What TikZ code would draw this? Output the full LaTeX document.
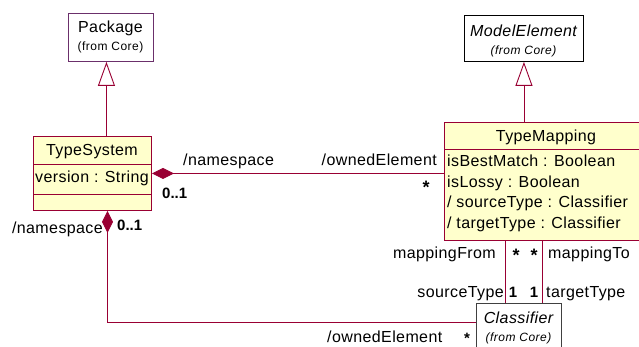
\documentclass[tikz,border=0pt]{standalone}
\usepackage{fontspec}
\setmainfont{Liberation Sans}
\usetikzlibrary{arrows.meta}
\definecolor{umlred}{HTML}{990033}
\definecolor{umlpurple}{HTML}{6B2F6B}
\definecolor{umlfill}{HTML}{FFFFCC}
\definecolor{umlgray}{HTML}{404040}
\begin{document}
\begin{tikzpicture}[x=1pt,y=-1pt,
  box/.style={draw, line width=0.9pt, anchor=north west, inner sep=0pt},
  classbox/.style={box, draw=umlred, fill=umlfill},
  txt/.style={inner sep=0pt, font=\fontsize{16}{19}\selectfont\addfontfeatures{LetterSpace=2.5}, text height=11.5pt, text depth=0pt},
  itxt/.style={txt, font=\fontsize{16}{19}\selectfont\itshape\addfontfeatures{LetterSpace=2.5}},
  note/.style={inner sep=0pt, font=\fontsize{12}{14}\selectfont\addfontfeatures{LetterSpace=4}, text height=8.6pt, text depth=0pt},
  inote/.style={note, font=\fontsize{12}{14}\selectfont\itshape\addfontfeatures{LetterSpace=4}},
  mult/.style={inner sep=0pt, font=\fontsize{15}{18}\selectfont\bfseries, text height=10.8pt, text depth=0pt},
  star/.style={inner sep=0pt, font=\fontsize{18}{20}\selectfont\bfseries, text height=13pt, text depth=0pt},
  smallstar/.style={inner sep=0pt, font=\fontsize{15}{18}\selectfont\bfseries, text height=10pt, text depth=0pt},
  link/.style={draw=umlred, line width=0.9pt},
  inherit/.style={link, -{Triangle[open, length=24pt, width=17pt, fill=white]}},
  owner/.style={link, {Diamond[length=22pt, width=11pt, fill=umlred]}-},
]
\useasboundingbox (0,0) rectangle (639,347);

% class boxes
\node[box, draw=umlpurple, minimum width=85pt, minimum height=48pt] (pkg) at (68,13) {};
\node[box, draw=black, minimum width=119pt, minimum height=46pt] (me) at (464,15) {};
\node[classbox, minimum width=118pt, minimum height=74pt] (ts) at (33,136) {};
\node[classbox, minimum width=204pt, minimum height=118pt] (tm) at (444,122) {};
\node[box, draw=umlgray, fill=white, minimum width=85pt, minimum height=50pt] (cl) at (476,303) {};

% compartment separators
\draw[umlred, line width=0.9pt] (33,164) -- (151,164) (33,194) -- (151,194);
\draw[umlred, line width=0.9pt] (444,149) -- (648,149);

% class names and attributes
\node[txt] (pkgname) at (110.5,27) {Package};
\node[note] (pkgfrom) at (110.5,46) {(from Core)};
\node[itxt] (mename) at (523.5,31) {ModelElement};
\node[inote] (mefrom) at (523.5,50) {(from Core)};
\node[txt] (tsname) at (92,150) {TypeSystem};
\node[txt, anchor=west] (tsattr) at (35,177) {version : String};
\node[txt] (tmname) at (546,136) {TypeMapping};
\node[txt, anchor=west] (tma) at (447,161) {isBestMatch : Boolean};
\node[txt, anchor=west] (tmb) at (447,182) {isLossy : Boolean};
\node[txt, anchor=west] (tmc) at (447,202) {/ sourceType : Classifier};
\node[txt, anchor=west] (tmd) at (447,223) {/ targetType : Classifier};
\node[itxt] (clname) at (518.5,318) {Classifier};
\node[inote] (clfrom) at (518.5,337) {(from Core)};

% generalizations
\draw[inherit] ([xshift=-4.5pt]pkg.south |- ts.north) -- ([xshift=-4.5pt]pkg.south);
\draw[inherit] (me.south |- tm.north) -- (me.south);

% compositions and associations
\draw[owner] (ts.east) -- (ts.east -| tm.west);
\draw[owner] ([xshift=15pt]ts.south) |- ([yshift=-19pt]cl.north west);
\draw[link] ([xshift=-41pt]tm.south) -- ([xshift=-41pt]tm.south |- cl.north);
\draw[link] ([xshift=-4pt]tm.south) -- ([xshift=-4pt]tm.south |- cl.north);

% role names and multiplicities
\node[txt, anchor=west] (r1) at (183,160) {/namespace};
\node[txt, anchor=east] (r2) at (437,160) {/ownedElement};
\node[star] (m1) at (426,187) {*};
\node[mult, anchor=west] (m2) at (162,193) {0..1};
\node[mult, anchor=west] (m3) at (117,225) {0..1};
\node[txt, anchor=east] (r3) at (103,228) {/namespace};
\node[txt, anchor=east] (r4) at (496,253) {mappingFrom};
\node[star] (m4) at (516,255) {*};
\node[star] (m5) at (534,255) {*};
\node[txt, anchor=west] (r5) at (548,253) {mappingTo};
\node[txt, anchor=east] (r6) at (504,292) {sourceType};
\node[mult] (m6) at (513,292) {1};
\node[mult] (m7) at (534,292) {1};
\node[txt, anchor=west] (r7) at (546,292) {targetType};
\node[txt, anchor=west] (r8) at (327,337) {/ownedElement};
\node[smallstar] (m8) at (467,338) {*};
\end{tikzpicture}
\end{document}
